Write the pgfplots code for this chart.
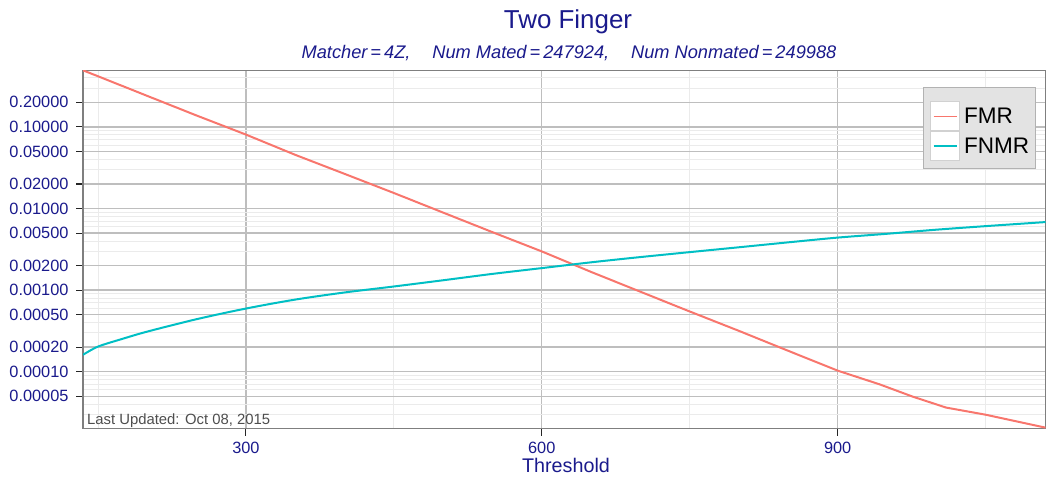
\documentclass[border=0pt]{standalone}
\usepackage{pgfplots}
\pgfplotsset{compat=1.18}
\usepackage{fontspec}
\setmainfont{Liberation Sans}
\definecolor{fmr}{HTML}{F8766D}
\definecolor{fnmr}{HTML}{00BFC4}
\definecolor{dblue}{HTML}{1A1A8C}
\definecolor{majgrid}{HTML}{BEBEBE}
\definecolor{mingrid}{HTML}{EBEBEB}
\definecolor{border}{HTML}{7F7F7F}
\definecolor{legfill}{HTML}{E3E3E3}
\definecolor{annot}{HTML}{4D4D4D}
\begin{document}
\begin{tikzpicture}[x=1bp,y=1bp]
\useasboundingbox (0,0) rectangle (1046,478);
\begin{axis}[
  at={(83bp,49.3bp)}, anchor=south west,
  scale only axis, width=962.5bp, height=358bp,
  xmin=134.8, xmax=1110.8,
  ymode=log, ymin=2e-5, ymax=0.489,
  xtick={300,600,900}, xticklabels={300,600,900},
  minor xtick={150,450,750,1050},
  ytick={5e-5,1e-4,2e-4,5e-4,0.001,0.002,0.005,0.01,0.02,0.05,0.1,0.2},
  yticklabels={0.00005,0.00010,0.00020,0.00050,0.00100,0.00200,0.00500,0.01000,0.02000,0.05000,0.10000,0.20000},
  minor ytick={3e-5,4e-5,6e-5,7e-5,8e-5,9e-5,3e-4,4e-4,6e-4,7e-4,8e-4,9e-4,3e-3,4e-3,6e-3,7e-3,8e-3,9e-3,0.03,0.04,0.06,0.07,0.08,0.09,0.3,0.4},
  grid=both,
  major grid style={majgrid, line width=1.3bp},
  minor grid style={mingrid, line width=0.9bp},
  axis line style={border, line width=1.3bp},
  tick pos=left, tick align=outside,
  major tick length=7bp, minor tick length=0pt,
  tick style={black!85, line width=1.1bp},
  tick label style={font=\fontsize{16.4}{16.4}\selectfont, text=dblue},
  yticklabel style={xshift=-4bp},
  xticklabel style={yshift=-3bp},
  legend style={at={(0.9903,0.9553)}, anchor=north east, fill=legfill, draw=black!30, line width=0.8bp,
    font=\fontsize{22.6}{22.6}\selectfont, inner xsep=6.7bp, inner ysep=7bp, row sep=0pt, column sep=4bp,
    nodes={inner sep=0pt}},
  legend cell align=left,
  legend image code/.code={
    \draw[draw=black!18, fill=white, line width=0.8bp] (0bp,-14.5bp) rectangle (29bp,14.5bp);
    \draw[#1, line width=1.2bp] (3bp,0bp) -- (26bp,0bp);
  },
]
\addlegendimage{empty legend}
\addlegendentry[minimum height=7.3bp]{}
\addplot[fmr, line width=2bp] coordinates {
(134.8,0.494) (150,0.418) (200,0.240) (250,0.138) (300,0.0806) (350,0.0455)
(400,0.0266) (450,0.0155) (500,0.00891) (550,0.00513) (600,0.00298) (650,0.00167)
(700,0.000955) (750,0.000547) (800,0.000316) (850,0.000180) (900,0.000103)
(942.5,0.0000700) (976,0.0000495) (1010,0.0000363) (1050,0.0000297) (1110.8,0.0000206)
};
\addlegendentry{FMR}
\addplot[fnmr, line width=2bp, smooth, tension=0.5] coordinates {
(134.8,0.000161) (150,0.000203) (175,0.000253) (200,0.000310) (250,0.000440) (300,0.000594)
(350,0.000765) (400,0.000935) (450,0.001107) (500,0.00132) (550,0.00158) (600,0.00186)
(650,0.00219) (700,0.00254) (750,0.00292) (800,0.00335) (850,0.00385) (900,0.0044)
(950,0.0049) (1000,0.0055) (1050,0.00608) (1110.8,0.00682)
};
\addlegendentry{FNMR}
\end{axis}
\node[anchor=base west, text=annot, font=\fontsize{14.9}{14.9}\selectfont, inner sep=0pt] at (87,53.5) {Last Updated: Oct 08, 2015};
\node[anchor=base, text=dblue, font=\fontsize{19.8}{19.8}\selectfont, inner sep=0pt] at (566,5.3) {Threshold};
\node[anchor=base, text=dblue, font=\fontsize{26}{26}\selectfont, inner sep=0pt] at (568,449.4) {Two Finger};
\node[anchor=base, text=dblue, font=\fontsize{18.3}{18.3}\selectfont\itshape, inner sep=0pt] at (569,419) {Matcher\,=\,4Z,\hspace{1.2em}Num Mated\,=\,247924,\hspace{1.2em}Num Nonmated\,=\,249988};
\end{tikzpicture}
\end{document}
